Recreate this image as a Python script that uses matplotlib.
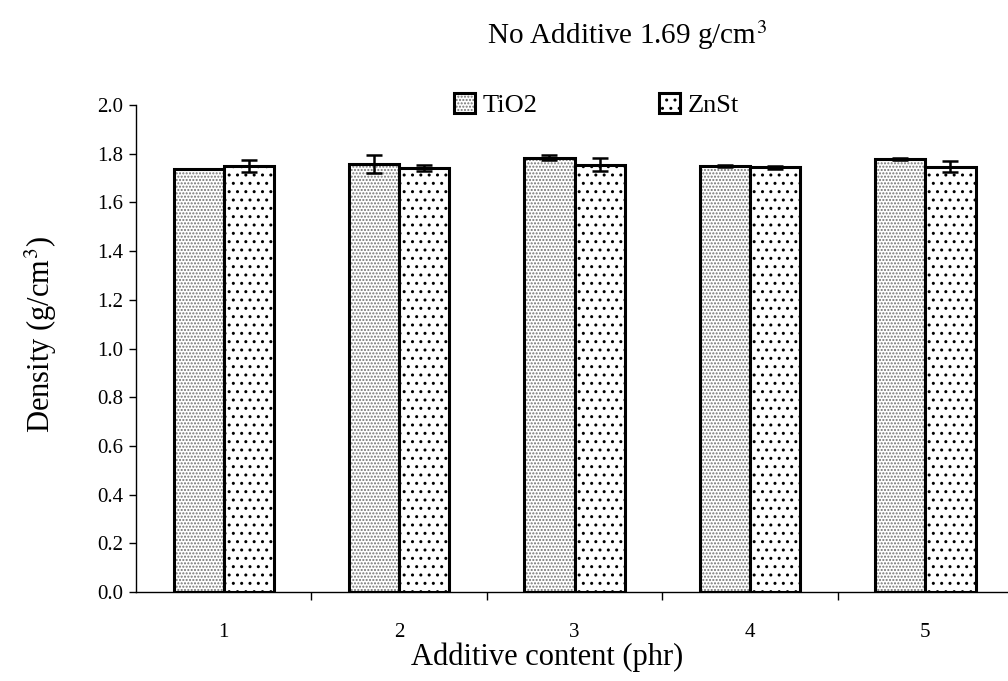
import numpy as np
import matplotlib
matplotlib.use("Agg")
import matplotlib.pyplot as plt

plt.rcParams['font.family'] = ['Liberation Serif', 'DejaVu Serif']
plt.rcParams['mathtext.fontset'] = 'stix'
plt.rcParams['hatch.linewidth'] = 1.0

# density of samples (g/cm3) at each additive loading
phr = ['1', '2', '3', '4', '5']
tio2 = [1.737, 1.757, 1.784, 1.749, 1.779]
tio2_err = [0.0, 0.037, 0.010, 0.003, 0.003]
znst = [1.749, 1.740, 1.754, 1.744, 1.747]
znst_err = [0.026, 0.012, 0.027, 0.005, 0.023]

fig = plt.figure(figsize=(10.08, 6.81), dpi=100)
ax = fig.add_axes([0.135, 0.1307, 0.870, 0.7151])

x = np.arange(len(phr))
w = 0.286

b1 = ax.bar(x - w/2, tio2, w, color='white', edgecolor='black', linewidth=2.2,
            hatch='.....', label='TiO2')
b2 = ax.bar(x + w/2, znst, w, color='white', edgecolor='black', linewidth=2.2,
            hatch='..', label='ZnSt')
for p in b1:
    p._hatch_color = (0.45, 0.45, 0.45, 1.0)

ax.errorbar(x - w/2, tio2, yerr=tio2_err, fmt='none', ecolor='black',
            elinewidth=1.8, capsize=5.5, capthick=1.8)
ax.errorbar(x + w/2, znst, yerr=znst_err, fmt='none', ecolor='black',
            elinewidth=1.8, capsize=5.5, capthick=1.8)

ax.set_xlim(-0.5, len(phr) - 0.5)
ax.set_ylim(0, 2.0)
ax.set_yticks(np.arange(0, 2.01, 0.2))
ax.set_yticklabels(['%.1f' % v for v in np.arange(0, 2.01, 0.2)])

# category ticks sit between the groups, labels under the groups
ax.set_xticks(np.arange(0.5, len(phr) - 0.5, 1.0))
ax.set_xticklabels([])
ax.set_xticks(x, minor=True)
ax.set_xticklabels(phr, minor=True)
ax.tick_params(axis='x', which='minor', length=0, pad=22, labelsize=15)
ax.tick_params(axis='x', which='major', direction='out', length=6, width=1)
ax.tick_params(axis='y', direction='out', length=5, width=1, labelsize=15, pad=4)

for s in ['top', 'right']:
    ax.spines[s].set_visible(False)
ax.spines['left'].set_linewidth(1)
ax.spines['bottom'].set_linewidth(1)

ax.set_xlabel('Additive content (phr)', fontsize=22)
ax.xaxis.set_label_coords(0.469, -0.103)
ax.set_ylabel('Density (g/cm$^3$)', fontsize=22)
ax.yaxis.set_label_coords(-0.088, 0.528)

fig.text(0.622, 0.948, 'No Additive 1.69 g/cm$^3$', fontsize=21, ha='center', va='center')

ax.legend(loc='center', bbox_to_anchor=(0.525, 1.0), ncol=2, frameon=False,
          fontsize=19, handlelength=0.8, handleheight=0.8, handletextpad=0.3,
          columnspacing=4.6)

fig.savefig('out.png', dpi=100)
